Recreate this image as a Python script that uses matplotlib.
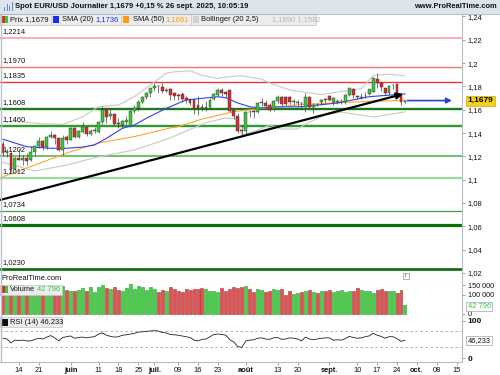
import numpy as np
import pandas as pd
import matplotlib
matplotlib.use('Agg')
import matplotlib.pyplot as plt
from matplotlib.patches import Rectangle
from matplotlib.transforms import blended_transform_factory

plt.rcParams['font.family'] = ['Liberation Sans', 'DejaVu Sans']

# ---------------- data ----------------
dates = pd.bdate_range('2025-05-08', '2025-09-26')

opens = [1.1304, 1.1228, 1.1230, 1.1090, 1.1185, 1.1172, 1.1188, 1.1170, 1.1235, 1.1285,
         1.1335, 1.1280, 1.1365, 1.1385, 1.1355, 1.1258, 1.1370, 1.1345, 1.1445, 1.1367,
         1.1410, 1.1450, 1.1395, 1.1420, 1.1408, 1.1495, 1.1598, 1.1545, 1.1563, 1.1490,
         1.1470, 1.1495, 1.1465, 1.1590, 1.1612, 1.1670, 1.1710, 1.1742, 1.1784, 1.1800,
         1.1798, 1.1764, 1.1775, 1.1741, 1.1730, 1.1738, 1.1700, 1.1684, 1.1684, 1.1641,
         1.1627, 1.1612, 1.1625, 1.1693, 1.1727, 1.1769, 1.1750, 1.1769, 1.1598, 1.1546,
         1.1425, 1.1418, 1.1584, 1.1590, 1.1584, 1.1662, 1.1660, 1.1641, 1.1610, 1.1672,
         1.1713, 1.1710, 1.1706, 1.1667, 1.1662, 1.1662, 1.1627, 1.1713, 1.1620, 1.1645,
         1.1667, 1.1690, 1.1720, 1.1667, 1.1667, 1.1675, 1.1667, 1.1727, 1.1780, 1.1715,
         1.1705, 1.1720, 1.1735, 1.1755, 1.1862, 1.1827, 1.1784, 1.1741, 1.1813, 1.1820,
         1.1735, 1.1668]
highs = [1.1330, 1.1265, 1.1240, 1.1195, 1.1265, 1.1210, 1.1228, 1.1285, 1.1300, 1.1365,
         1.1345, 1.1375, 1.1420, 1.1395, 1.1365, 1.1385, 1.1380, 1.1455, 1.1455, 1.1430,
         1.1495, 1.1460, 1.1435, 1.1450, 1.1500, 1.1632, 1.1615, 1.1615, 1.1575, 1.1530,
         1.1510, 1.1545, 1.1598, 1.1640, 1.1680, 1.1720, 1.1755, 1.1790, 1.1830, 1.1812,
         1.1830, 1.1790, 1.1790, 1.1755, 1.1745, 1.1750, 1.1720, 1.1700, 1.1700, 1.1720,
         1.1650, 1.1675, 1.1700, 1.1740, 1.1790, 1.1790, 1.1765, 1.1772, 1.1600, 1.1575,
         1.1470, 1.1590, 1.1600, 1.1600, 1.1670, 1.1700, 1.1680, 1.1660, 1.1685, 1.1730,
         1.1720, 1.1716, 1.1720, 1.1690, 1.1680, 1.1670, 1.1740, 1.1720, 1.1660, 1.1660,
         1.1690, 1.1700, 1.1730, 1.1710, 1.1690, 1.1690, 1.1735, 1.1785, 1.1790, 1.1730,
         1.1745, 1.1750, 1.1780, 1.1878, 1.1913, 1.1840, 1.1790, 1.1815, 1.1820, 1.1825,
         1.1745, 1.1685]
lows = [1.1200, 1.1195, 1.1066, 1.1085, 1.1165, 1.1130, 1.1130, 1.1160, 1.1205, 1.1270,
        1.1255, 1.1260, 1.1355, 1.1310, 1.1250, 1.1210, 1.1310, 1.1340, 1.1355, 1.1355,
        1.1400, 1.1375, 1.1385, 1.1400, 1.1400, 1.1475, 1.1490, 1.1525, 1.1470, 1.1445,
        1.1445, 1.1470, 1.1453, 1.1570, 1.1590, 1.1660, 1.1690, 1.1710, 1.1760, 1.1745,
        1.1745, 1.1750, 1.1680, 1.1685, 1.1683, 1.1665, 1.1655, 1.1645, 1.1563, 1.1556,
        1.1590, 1.1590, 1.1610, 1.1680, 1.1715, 1.1720, 1.1710, 1.1585, 1.1520, 1.1400,
        1.1392, 1.1390, 1.1540, 1.1530, 1.1575, 1.1630, 1.1620, 1.1590, 1.1590, 1.1660,
        1.1630, 1.1640, 1.1650, 1.1645, 1.1630, 1.1610, 1.1584, 1.1610, 1.1575, 1.1630,
        1.1640, 1.1660, 1.1675, 1.1640, 1.1650, 1.1650, 1.1650, 1.1720, 1.1700, 1.1690,
        1.1690, 1.1700, 1.1725, 1.1750, 1.1790, 1.1760, 1.1730, 1.1730, 1.1780, 1.1735,
        1.1645, 1.1660]
closes = [1.1227, 1.1250, 1.1090, 1.1185, 1.1172, 1.1188, 1.1163, 1.1235, 1.1285, 1.1335,
          1.1280, 1.1365, 1.1385, 1.1355, 1.1258, 1.1360, 1.1345, 1.1445, 1.1365, 1.1417,
          1.1450, 1.1395, 1.1420, 1.1425, 1.1495, 1.1598, 1.1540, 1.1563, 1.1478, 1.1475,
          1.1500, 1.1515, 1.1590, 1.1612, 1.1670, 1.1710, 1.1745, 1.1784, 1.1805, 1.1798,
          1.1764, 1.1766, 1.1727, 1.1720, 1.1722, 1.1692, 1.1688, 1.1661, 1.1610, 1.1613,
          1.1613, 1.1627, 1.1683, 1.1735, 1.1769, 1.1746, 1.1738, 1.1592, 1.1546, 1.1420,
          1.1415, 1.1584, 1.1580, 1.1578, 1.1659, 1.1670, 1.1635, 1.1598, 1.1675, 1.1710,
          1.1648, 1.1648, 1.1667, 1.1675, 1.1664, 1.1658, 1.1713, 1.1625, 1.1645, 1.1643,
          1.1684, 1.1680, 1.1684, 1.1702, 1.1675, 1.1676, 1.1727, 1.1784, 1.1727, 1.1708,
          1.1707, 1.1722, 1.1778, 1.1870, 1.1827, 1.1792, 1.1741, 1.1804, 1.1813, 1.1741,
          1.1665, 1.1679]

volumes = [148000, 140000, 152000, 128000, 135000, 150000, 118000, 132000, 126000, 138000,
           125000, 130000, 112000, 140000, 128000, 145000, 122000, 120000, 118000, 125000,
           132000, 120000, 138000, 112000, 140000, 150000, 135000, 128000, 140000, 125000,
           118000, 135000, 155000, 130000, 145000, 138000, 122000, 140000, 128000, 115000,
           125000, 118000, 138000, 128000, 120000, 112000, 130000, 125000, 128000, 130000,
           135000, 128000, 120000, 118000, 112000, 132000, 120000, 128000, 140000, 135000,
           138000, 145000, 130000, 112000, 128000, 125000, 115000, 118000, 130000, 122000,
           128000, 100000, 120000, 105000, 110000, 112000, 120000, 125000, 115000, 110000,
           120000, 118000, 125000, 112000, 118000, 122000, 115000, 120000, 118000, 135000,
           122000, 120000, 118000, 108000, 125000, 128000, 118000, 118000, 118000, 108000,
           122000, 42796]

rsi = [52, 50, 40, 47, 46, 47, 45, 45, 49, 52, 50, 55, 59, 53, 45, 54, 56, 58, 52, 54,
       55, 53, 55, 56, 63, 66, 60, 57, 55, 56, 60, 61, 63, 65, 68, 69, 70, 71, 72, 71,
       67, 66, 62, 61, 60, 58, 56, 54, 47, 45, 49, 50, 56, 62, 63, 62, 60, 48, 42, 30,
       28, 45, 47, 48, 52, 53, 50, 49, 53, 54, 49, 50, 53, 52, 50, 45, 55, 50, 48, 50,
       52, 53, 53, 47, 48, 47, 51, 57, 54, 52, 53, 56, 58, 65, 60, 57, 52, 56, 56, 51,
       44, 46.233]

# indicator lines, read at sample bars (bar index, value)
sma20_idx = [0, 6, 12, 16, 20, 23, 26, 30, 33, 36, 41, 46, 50, 54, 56, 59, 62, 65, 68, 75, 84, 92, 101]
sma20_val = [1.1347, 1.1283, 1.1270, 1.1270, 1.1280, 1.1298, 1.1355, 1.1441, 1.1469, 1.1527,
             1.1612, 1.1684, 1.1698, 1.1712, 1.1703, 1.1658, 1.1626, 1.1615, 1.1624, 1.1626,
             1.1658, 1.1712, 1.1736]
sma50_idx = [0, 8, 16, 24, 33, 42, 44, 50, 58, 67, 75, 84, 92, 101]
sma50_val = [1.1026, 1.1126, 1.1229, 1.1315, 1.1370, 1.1444, 1.1455, 1.1520, 1.1584, 1.1620,
             1.1645, 1.1660, 1.1672, 1.1681]
bb_up_idx = [0, 5, 10, 15, 16, 20, 24, 29, 33, 37, 41, 43, 47, 50, 54, 56, 60, 61, 65, 67,
             72, 77, 80, 85, 90, 93, 97, 101]
bb_up_val = [1.1500, 1.1495, 1.1480, 1.1475, 1.1486, 1.1540, 1.1626, 1.1641, 1.1712, 1.1812,
             1.1913, 1.1925, 1.1935, 1.1895, 1.1870, 1.1880, 1.1893, 1.1885, 1.1863, 1.1830,
             1.1770, 1.1745, 1.1730, 1.1757, 1.1780, 1.1895, 1.1905, 1.1890]
bb_lo_idx = [0, 8, 16, 24, 33, 42, 51, 56, 59, 60, 64, 67, 70, 74, 77, 81, 85, 93, 101]
bb_lo_val = [1.1150, 1.1075, 1.1126, 1.1197, 1.1255, 1.1358, 1.1490, 1.1530, 1.1520, 1.1384,
             1.1426, 1.1469, 1.1435, 1.1435, 1.1495, 1.1555, 1.1580, 1.1538, 1.1582]

levels = [1.2214, 1.1970, 1.1835, 1.1608, 1.1460, 1.1202, 1.1012, 1.0734, 1.0608, 1.0230]
level_labels = ['1,2214', '1,1970', '1,1835', '1,1608', '1,1460', '1,1202', '1,1012', '1,0734', '1,0608', '1,0230']

trend_idx = [-0.75, 100.5]
trend_val = [1.0826, 1.1735]
last_price = 1.1679

price_ticks = [1.02, 1.04, 1.06, 1.08, 1.10, 1.12, 1.14, 1.16, 1.18, 1.20, 1.22, 1.24]
date_ticks = ['2025-05-14', '2025-05-21', '2025-06-02', '2025-06-11', '2025-06-18', '2025-06-25',
              '2025-07-01', '2025-07-09', '2025-07-16', '2025-07-23', '2025-08-01', '2025-08-13',
              '2025-08-20', '2025-09-01', '2025-09-10', '2025-09-17', '2025-09-24', '2025-10-01',
              '2025-10-08', '2025-10-15']
date_labels = ['14', '21', 'juin', '11', '18', '25', 'juil.', '09', '16', '23', 'août', '13',
               '20', 'sept.', '10', '17', '24', 'oct.', '08', '15']
month_labels = {'juin', 'juil.', 'août', 'sept.', 'oct.'}

# ---------------- layout helpers ----------------
W, H = 500, 375
fig = plt.figure(figsize=(W / 100, H / 100), dpi=100)
fig.patch.set_facecolor('white')


def rect(x0, y0, x1, y1):
    return [x0 / W, 1 - y1 / H, (x1 - x0) / W, (y1 - y0) / H]


XL, XR = -0.75, (462 - 3) / 3.98
FS = 5.4
GRID = '#b4bec8'

n = len(closes)
idx = np.arange(n)
o = np.array(opens); c = np.array(closes); h = np.array(highs); l = np.array(lows)
up = c >= o
GREEN = '#3cc43c'
RED = '#dd2a2a'
colors = np.where(up, GREEN, RED)

# ---------------- main price panel ----------------
ax = fig.add_axes(rect(0, 13, 462, 283))
ax.set_xlim(XL, XR)
ax.set_ylim(1.01142, 1.2430)

lvl_style = [('#f5a3a3', 1.2), ('#f07575', 1.0), ('#e43a3a', 1.0), ('#1b7a1b', 1.7),
             ('#2f9a2f', 1.7), ('#6cc06c', 1.4), ('#9fd89f', 1.6), ('#3f9f3f', 0.9),
             ('#0a700a', 2.3), ('#0a6a0a', 1.9)]
for lv, lab, (col, lw) in zip(levels, level_labels, lvl_style):
    ax.axhline(lv, color=col, lw=lw, zorder=1)
    ax.annotate(lab, xy=(0, lv), xycoords=('axes fraction', 'data'), xytext=(1.5, 2.2),
                textcoords='offset points', fontsize=FS, ha='left', va='bottom', color='#111111')

ax.plot(bb_up_idx, bb_up_val, color='#c8c8c8', lw=0.8, zorder=2)
ax.plot(bb_lo_idx, bb_lo_val, color='#c8c8c8', lw=0.8, zorder=2)
ax.plot(sma50_idx, sma50_val, color='#ffa530', lw=0.8, zorder=2)
ax.plot(sma20_idx, sma20_val, color='#3040f0', lw=0.8, zorder=2)

ax.vlines(idx, l, h, color='#444444', lw=0.5, zorder=3)
body_h = np.where(np.abs(c - o) < 0.0002, 0.0002, c - o)
ax.bar(idx, body_h, bottom=o, width=0.72, color=colors, edgecolor='#333333', linewidth=0.3, zorder=4)

ax.annotate('', xy=(trend_idx[1], trend_val[1]), xytext=(trend_idx[0], trend_val[0]),
            arrowprops=dict(arrowstyle='-|>', color='black', lw=1.6, mutation_scale=9,
                            shrinkA=0, shrinkB=0), zorder=5)
ax.annotate('', xy=(112.8, last_price), xytext=(101.6, last_price),
            arrowprops=dict(arrowstyle='-|>', color='#2a3ee0', lw=1.2, mutation_scale=8,
                            shrinkA=0, shrinkB=0), zorder=5)

ax.yaxis.tick_right()
ax.set_yticks(price_ticks)
ax.set_yticklabels([('%.2f' % v).rstrip('0').replace('.', ',') for v in price_ticks])
ax.tick_params(axis='y', direction='out', length=2.5, width=0.6, color='#8a949e', pad=1.5,
               labelsize=FS, labelcolor='#111111')
ax.set_xticks([])
for s in ['top', 'left']:
    ax.spines[s].set_visible(False)
ax.spines['right'].set_color(GRID)
ax.spines['bottom'].set_color(GRID)
ax.spines['right'].set_linewidth(0.8)
ax.spines['bottom'].set_linewidth(0.8)

bt = blended_transform_factory(ax.transAxes, ax.transData)
ax.text(1.012, last_price, '1,1679', transform=bt, fontsize=FS + 0.6, fontweight='bold',
        ha='left', va='center', clip_on=False, zorder=6,
        bbox=dict(boxstyle='square,pad=0.18', fc='#f3d21c', ec='#c9a800', lw=0.5))

# ---------------- volume panel ----------------
axv = fig.add_axes(rect(0, 283, 462, 316))
axv.set_xlim(XL, XR)
axv.set_ylim(-13000, 160714)
vcol = np.where(up, '#49d049', '#e05252')
vedge = np.where(up, '#2c9a2c', '#a83232')
axv.bar(idx, volumes, width=0.75, color=vcol, edgecolor=vedge, linewidth=0.4, zorder=2)
axv.yaxis.tick_right()
axv.set_yticks([0, 100000, 150000])
axv.set_yticklabels(['0', '100 000', '150 000'])
axv.tick_params(axis='y', direction='out', length=2.5, width=0.6, color='#8a949e', pad=1.5,
                labelsize=FS - 0.2, labelcolor='#111111')
axv.set_xticks([])
for s in ['top', 'left']:
    axv.spines[s].set_visible(False)
for s in ['right', 'bottom']:
    axv.spines[s].set_color(GRID)
    axv.spines[s].set_linewidth(0.8)
bv = blended_transform_factory(axv.transAxes, axv.transData)
axv.text(1.012, volumes[-1] - 4000, '42 796', transform=bv, fontsize=FS, color='#3cc43c',
         ha='left', va='center', clip_on=False, zorder=6,
         bbox=dict(boxstyle='square,pad=0.15', fc='white', ec='#9aa4ae', lw=0.5))

# ---------------- RSI panel ----------------
axr = fig.add_axes(rect(0, 316, 462, 362))
axr.set_xlim(XL, XR)
axr.set_ylim(-10.5, 110.5)
axr.axhline(70, color='#aaaaaa', lw=0.6, ls=(0, (3, 3)))
axr.axhline(30, color='#aaaaaa', lw=0.6, ls=(0, (3, 3)))
axr.plot(idx, rsi, color='#222222', lw=0.6)
axr.yaxis.tick_right()
axr.set_yticks([0, 98])
axr.set_yticklabels(['0', '100'], fontweight='bold')
axr.tick_params(axis='y', direction='out', length=2.5, width=0.6, color='#8a949e', pad=1.5,
                labelsize=FS + 0.6, labelcolor='#111111')
br = blended_transform_factory(axr.transAxes, axr.transData)
axr.text(1.012, rsi[-1], '46,233', transform=br, fontsize=FS, color='#111111',
         ha='left', va='center', clip_on=False, zorder=6,
         bbox=dict(boxstyle='square,pad=0.15', fc='white', ec='#9aa4ae', lw=0.5))

start = np.datetime64('2025-05-08')
tick_pos = [np.busday_count(start, np.datetime64(d)) for d in date_ticks]
axr.set_xticks(tick_pos)
axr.set_xticklabels(date_labels)
for t in axr.get_xticklabels():
    if t.get_text() in month_labels:
        t.set_fontweight('bold')
axr.tick_params(axis='x', direction='out', length=2, width=0.6, color='#8a949e', pad=1.5,
                labelsize=FS, labelcolor='#111111')
for s in ['top', 'left']:
    axr.spines[s].set_visible(False)
for s in ['right', 'bottom']:
    axr.spines[s].set_color(GRID)
    axr.spines[s].set_linewidth(0.8)

# ---------------- overlay: header, legends, labels ----------------
ov = fig.add_axes([0, 0, 1, 1], zorder=10)
ov.set_xlim(0, W)
ov.set_ylim(H, 0)
ov.axis('off')
ov.patch.set_alpha(0)

ov.add_patch(Rectangle((0, 0), W, 13.5, fc='#dde4ec', ec='none'))
ov.plot([0, W], [13.5, 13.5], color='#a9b4c0', lw=0.6)
for k, (bx, bh) in enumerate([(4, 4), (6.5, 7), (9, 5), (11.5, 9)]):
    ov.add_patch(Rectangle((bx, 11 - bh), 1.4, bh, fc='#5a8fd0', ec='none'))
ov.text(15, 7, 'Spot EUR/USD Journalier 1,1679 +0,15 % 26 sept. 2025, 10:05:19',
        fontsize=5.5, fontweight='bold', ha='left', va='center', color='#111111')
ov.text(497, 7, 'www.ProRealTime.com', fontsize=5.4, fontweight='bold', ha='right',
        va='center', color='#111111')

# legend row
ov.add_patch(Rectangle((0, 14), 316, 10.5, fc='#ececec', ec='#c4c4c4', lw=0.5))
for sx in [50.5, 120.5, 190.5]:
    ov.plot([sx, sx], [14, 24.5], color='#c4c4c4', lw=0.5)
ov.add_patch(Rectangle((1.5, 15.8), 3, 7, fc=RED, ec='none'))
ov.add_patch(Rectangle((4.5, 15.8), 3, 7, fc=GREEN, ec='none'))
ov.text(10, 19.3, 'Prix 1,1679', fontsize=FS, ha='left', va='center', color='#111111')
ov.add_patch(Rectangle((53, 15.8), 6, 7, fc='#1a2ef0', ec='none'))
ov.text(62, 19.3, 'SMA (20)', fontsize=FS, ha='left', va='center', color='#111111')
ov.text(95, 19.3, '1,1736', fontsize=FS, ha='left', va='center', color='#1a2ef0')
ov.add_patch(Rectangle((123, 15.8), 6, 7, fc='#ff9a10', ec='none'))
ov.text(133, 19.3, 'SMA (50)', fontsize=FS, ha='left', va='center', color='#111111')
ov.text(165, 19.3, '1,1681', fontsize=FS, ha='left', va='center', color='#ff9a10')
ov.add_patch(Rectangle((193, 15.8), 6, 7, fc='#d0d0d0', ec='none'))
ov.text(201, 19.3, 'Bollinger (20 2,5)', fontsize=FS, ha='left', va='center', color='#111111')
ov.text(272, 19.3, '1,1890 1,1582', fontsize=FS, ha='left', va='center', color='#b8b8b8')

# left border
ov.plot([0.5, 0.5], [13.5, 362], color='#b8c2cc', lw=1.0)

ov.text(1.5, 278.5, 'ProRealTime.com', fontsize=FS, ha='left', va='center', color='#111111')
ov.add_patch(Rectangle((402.5, 272.5), 6, 6, fc='white', ec='#8a949e', lw=0.5))
ov.text(405.5, 275.7, 'i', fontsize=4.5, ha='center', va='center', color='#555555')

# volume legend
ov.add_patch(Rectangle((0, 284.5), 62, 10, fc='#ececec', ec='#c4c4c4', lw=0.5))
ov.add_patch(Rectangle((1.5, 286), 3, 7, fc=RED, ec='none'))
ov.add_patch(Rectangle((4.5, 286), 3, 7, fc=GREEN, ec='none'))
ov.text(10, 289.7, 'Volume', fontsize=FS, ha='left', va='center', color='#111111')
ov.text(37, 289.7, '42 796', fontsize=FS, ha='left', va='center', color='#3cc43c')

# RSI legend
ov.add_patch(Rectangle((0, 317), 62, 10, fc='#ececec', ec='#c4c4c4', lw=0.5))
ov.add_patch(Rectangle((1.5, 318.5), 6, 7, fc='#111111', ec='none'))
ov.text(10, 322.2, 'RSI (14) 46,233', fontsize=FS, ha='left', va='center', color='#111111')

fig.savefig('out.png', dpi=100)
